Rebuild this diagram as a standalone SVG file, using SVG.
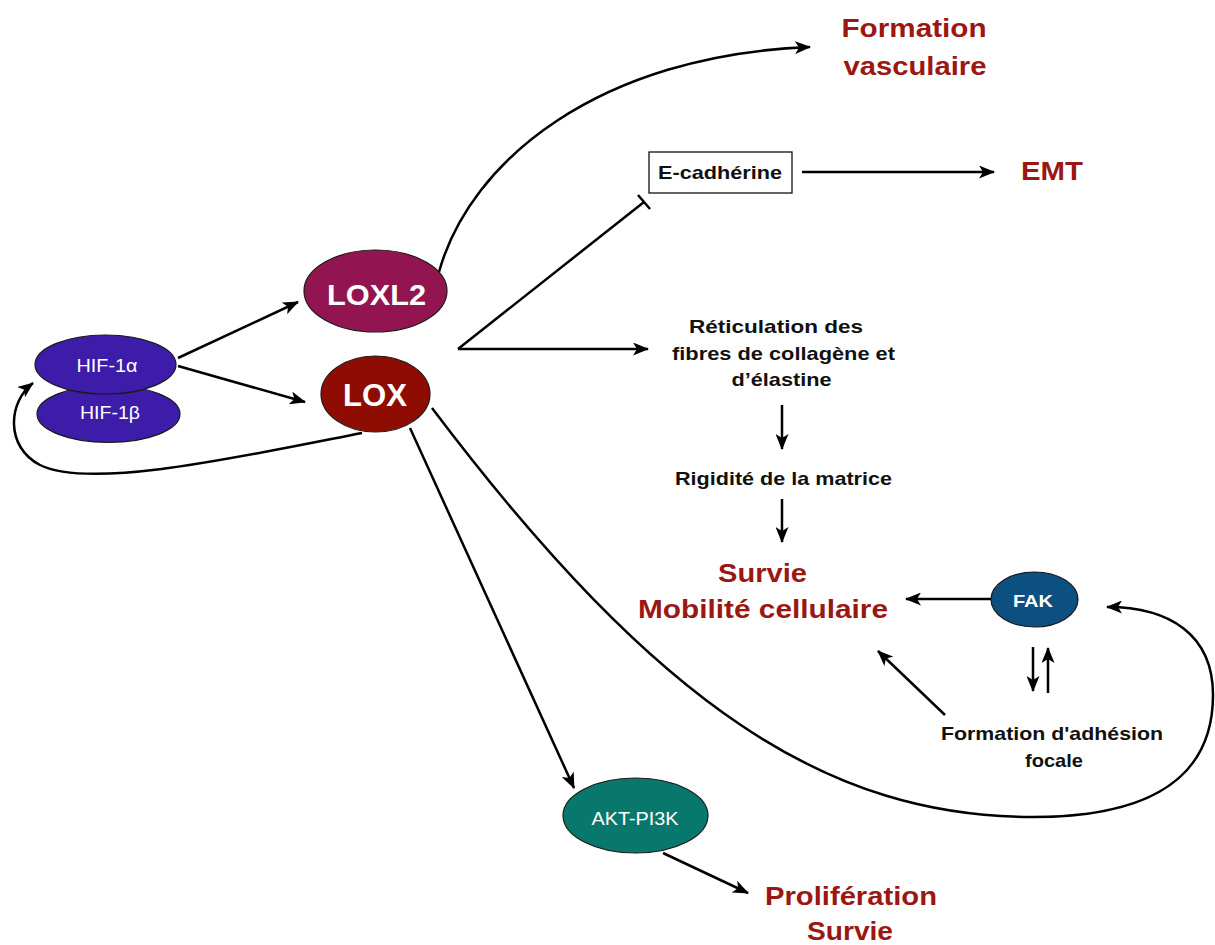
<svg xmlns="http://www.w3.org/2000/svg" width="1215" height="945" viewBox="0 0 1215 945">
<defs>
<marker id="arr" markerUnits="userSpaceOnUse" markerWidth="16" markerHeight="13" viewBox="0 0 16 13" refX="15" refY="6.5" orient="auto">
<path d="M0,0 L16,6.5 L0,13 L4,6.5 z" fill="#000"/>
</marker>
<style>
.ln{fill:none;stroke:#000;stroke-width:2.5}
.ar{marker-end:url(#arr)}
.nd{stroke:#1a1a1a;stroke-width:1.2}
.wt{fill:#fff;font-family:"Liberation Sans",Arial,sans-serif;text-anchor:middle}
.bk{fill:#111;font-family:"Liberation Sans",Arial,sans-serif;font-weight:bold;font-size:18.5px;text-anchor:middle}
.rd{fill:#9b1712;font-family:"Liberation Sans",Arial,sans-serif;font-weight:bold;font-size:26px;text-anchor:middle}
</style>
</defs>
<rect width="1215" height="945" fill="#fff"/>

<g id="connectors">
<line class="ln ar" x1="178" y1="358" x2="298" y2="302"/>
<line class="ln ar" x1="178" y1="366" x2="305" y2="402"/>
<path class="ln ar" d="M362,433 C240,457 90,490 40,465 C5,447 8,402 33,383"/>
<path class="ln ar" d="M439,272 C470,160 600,55 810,47"/>
<line class="ln" x1="458" y1="349" x2="644" y2="202"/>
<line class="ln" x1="638" y1="195" x2="650" y2="209"/>
<line class="ln ar" x1="458" y1="349" x2="648" y2="349"/>
<line class="ln ar" x1="802" y1="172" x2="994" y2="172"/>
<line class="ln ar" x1="782" y1="405" x2="782" y2="449"/>
<line class="ln ar" x1="782" y1="499" x2="782" y2="542"/>
<line class="ln ar" x1="991" y1="599" x2="906" y2="599"/>
<line class="ln ar" x1="945" y1="715" x2="878" y2="651"/>
<line class="ln ar" x1="1033" y1="647" x2="1033" y2="691"/>
<line class="ln ar" x1="1048" y1="693" x2="1048" y2="648"/>
<path class="ln ar" d="M432,408 C660,710 830,817 1033,817 C1130,817 1213,790 1213,695 C1213,635 1170,607 1107,607"/>
<line class="ln ar" x1="410" y1="428" x2="574" y2="788"/>
<line class="ln ar" x1="663" y1="853" x2="748" y2="893"/>
</g>

<g id="hif1b">
<ellipse class="nd" cx="108.5" cy="414" rx="71.5" ry="28.5" fill="#3d1ca9"/>
<text class="wt" x="110" y="419" font-size="19" textLength="60" lengthAdjust="spacingAndGlyphs">HIF-1β</text>
</g>
<g id="hif1a">
<ellipse class="nd" cx="105.5" cy="364.5" rx="70.5" ry="29.5" fill="#3d1ca9"/>
<text class="wt" x="107" y="372" font-size="19" textLength="61" lengthAdjust="spacingAndGlyphs">HIF-1α</text>
</g>
<g id="loxl2">
<ellipse class="nd" cx="375.5" cy="291" rx="71.5" ry="41" fill="#921551"/>
<text class="wt" x="376.5" y="305" font-size="30" font-weight="bold" textLength="99" lengthAdjust="spacingAndGlyphs">LOXL2</text>
</g>
<g id="lox">
<ellipse class="nd" cx="375.5" cy="394" rx="54.5" ry="38" fill="#8e0c02"/>
<text class="wt" x="375" y="406" font-size="31" font-weight="bold" textLength="64" lengthAdjust="spacingAndGlyphs">LOX</text>
</g>
<g id="formation-vasculaire">
<text class="rd" x="914" y="37" textLength="145" lengthAdjust="spacingAndGlyphs">Formation</text>
<text class="rd" x="915" y="75" textLength="143" lengthAdjust="spacingAndGlyphs">vasculaire</text>
</g>
<g id="ecadherine">
<rect x="649" y="152" width="143" height="41" fill="#fff" stroke="#111" stroke-width="1.3"/>
<text class="bk" x="720" y="179" textLength="124" lengthAdjust="spacingAndGlyphs">E-cadhérine</text>
</g>
<g id="emt">
<text class="rd" x="1052" y="180" textLength="62" lengthAdjust="spacingAndGlyphs">EMT</text>
</g>
<g id="reticulation">
<text class="bk" x="776" y="333" textLength="174" lengthAdjust="spacingAndGlyphs">Réticulation des</text>
<text class="bk" x="783.5" y="360" textLength="223" lengthAdjust="spacingAndGlyphs">fibres de collagène et</text>
<text class="bk" x="781.5" y="386" textLength="100" lengthAdjust="spacingAndGlyphs">d’élastine</text>
</g>
<g id="rigidite">
<text class="bk" x="783.5" y="485" textLength="217" lengthAdjust="spacingAndGlyphs">Rigidité de la matrice</text>
</g>
<g id="survie-mobilite">
<text class="rd" x="762.5" y="582" textLength="89" lengthAdjust="spacingAndGlyphs">Survie</text>
<text class="rd" x="763" y="618" textLength="250" lengthAdjust="spacingAndGlyphs">Mobilité cellulaire</text>
</g>
<g id="fak">
<ellipse class="nd" cx="1034.5" cy="599.5" rx="43.5" ry="27.5" fill="#0c4f81"/>
<text class="wt" x="1033" y="607" font-size="17" font-weight="bold" textLength="40" lengthAdjust="spacingAndGlyphs">FAK</text>
</g>
<g id="adhesion">
<text class="bk" x="1052" y="740" textLength="222" lengthAdjust="spacingAndGlyphs">Formation d'adhésion</text>
<text class="bk" x="1054" y="767" textLength="58" lengthAdjust="spacingAndGlyphs">focale</text>
</g>
<g id="akt">
<ellipse class="nd" cx="635.5" cy="815.5" rx="72.5" ry="37.5" fill="#09786c"/>
<text class="wt" x="635" y="825" font-size="18" textLength="87" lengthAdjust="spacingAndGlyphs">AKT-PI3K</text>
</g>
<g id="proliferation">
<text class="rd" x="851" y="905" textLength="172" lengthAdjust="spacingAndGlyphs">Prolifération</text>
<text class="rd" x="850" y="940" textLength="86" lengthAdjust="spacingAndGlyphs">Survie</text>
</g>
</svg>
